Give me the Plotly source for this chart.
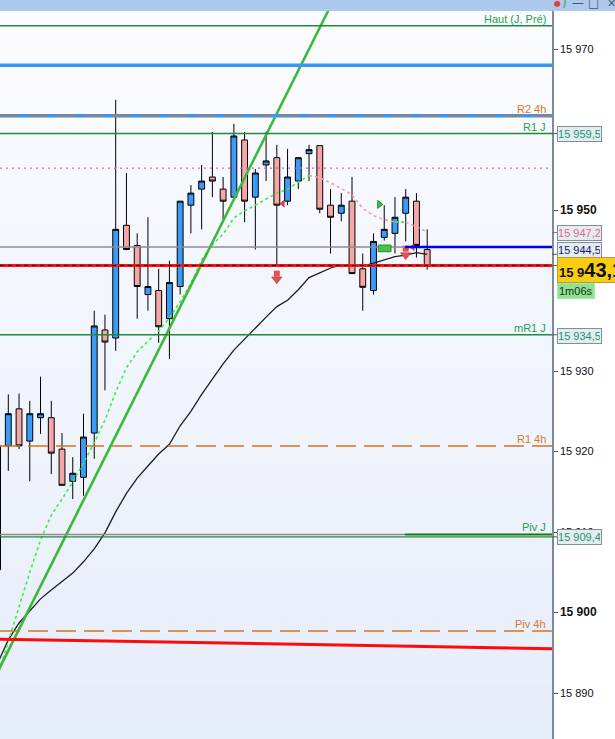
import plotly.graph_objects as go

# ---------------- data ----------------
bar_index = list(range(-1, 40))
open_px = [15905.3, 15920.7, 15925.3, 15921.3, 15924.2, 15924.2, 15920.3, 15916.3, 15916.8, 15922.3,
           15935.1, 15934.1, 15948.1, 15945.6, 15939.5, 15940.0, 15936.5, 15940.5, 15950.6, 15952.6,
           15954.1, 15952.6, 15951.6, 15958.7, 15951.6, 15955.6, 15956.5, 15951.1, 15953.6, 15957.0,
           15958.0, 15950.6, 15949.6, 15951.1, 15942.7, 15940.0, 15946.6, 15947.1, 15949.6, 15951.1,
           15945.1]
high_px = [15921.0, 15927.1, 15927.2, 15926.3, 15929.3, 15926.3, 15922.3, 15919.3, 15924.7, 15937.5,
           15937.0, 15963.7, 15954.6, 15947.1, 15949.1, 15942.7, 15943.7, 15951.1, 15953.1, 15955.6,
           15959.7, 15954.1, 15960.7, 15959.7, 15955.1, 15959.7, 15958.1, 15957.6, 15956.6, 15958.1,
           15958.0, 15952.6, 15952.1, 15954.1, 15944.6, 15947.1, 15950.6, 15951.6, 15952.6, 15952.1,
           15947.6]
low_px = [15903.5, 15917.6, 15920.3, 15916.3, 15922.2, 15917.2, 15915.8, 15914.1, 15914.5, 15919.1,
          15927.6, 15932.5, 15945.0, 15936.5, 15937.5, 15933.5, 15931.5, 15939.5, 15947.1, 15947.6,
          15951.6, 15948.6, 15951.6, 15948.5, 15945.1, 15953.6, 15943.2, 15950.6, 15952.6, 15953.6,
          15949.6, 15944.6, 15948.6, 15942.1, 15937.5, 15939.5, 15946.2, 15944.6, 15946.1, 15944.1,
          15942.6]
close_px = [15920.7, 15924.7, 15920.7, 15924.7, 15924.7, 15919.8, 15915.8, 15917.3, 15921.8, 15935.6,
            15933.6, 15947.6, 15945.1, 15940.5, 15940.5, 15935.5, 15941.0, 15951.1, 15952.1, 15953.6,
            15953.6, 15951.1, 15959.2, 15951.1, 15954.6, 15956.1, 15950.6, 15954.1, 15956.5, 15957.5,
            15950.1, 15949.1, 15950.6, 15942.1, 15940.4, 15946.1, 15947.6, 15949.1, 15951.6, 15945.6,
            15943.1]

ma_slow = [15893.7, 15896.6, 15898.7, 15900.2, 15901.7, 15902.8, 15903.8, 15904.9, 15906.3, 15907.9,
           15909.9, 15912.5, 15914.8, 15916.7, 15918.2, 15919.7, 15920.9, 15923.2, 15925.0, 15927.1,
           15929.0, 15930.9, 15932.6, 15934.0, 15935.3, 15936.7, 15938.0, 15938.8, 15940.1, 15941.6,
           15942.2, 15942.8, 15943.2, 15943.2, 15943.0, 15943.4, 15943.8, 15944.2, 15944.4, 15944.7,
           15944.5]
ma_fast = [15892.1, 15896.5, 15900.7, 15905.0, 15909.0, 15912.1, 15914.1, 15916.2, 15918.6, 15921.1,
           15923.9, 15927.4, 15930.4, 15932.4, 15933.7, 15935.0, 15936.6, 15938.6, 15940.9, 15943.8,
           15945.7, 15947.0, 15949.0, 15949.9, 15950.6, 15951.4, 15952.1, 15952.6, 15953.5, 15954.3,
           15954.0, 15953.4, 15952.7, 15951.9, 15950.2, 15949.3, 15948.8, 15948.5, 15948.5, 15947.9,
           15947.3]
ma_fast_up_ranges = [(-1, 28), (36, 37)]

trend_x = [-1, 31]
trend_y = [15892.6, 15978.0]
support_x = [-1, 51]
support_y = [15896.7, 15895.5]

haut_j_pre = 15972.9
blue_level_1 = 15968.0
r2_4h = 15961.7
r1_j = 15959.5
dotted_level = 15955.2
ref_level = 15945.4
last_price = 15943.1
mr1_j = 15934.5
r1_4h = 15920.7
piv_j_upper = 15909.7
piv_j = 15909.4
piv_4h = 15897.7
session_start_x = 36.94

level_labels = ["Haut (J, Pré)", "R2 4h", "R1 J", "mR1 J", "R1 4h", "Piv J", "Piv 4h"]
level_label_values = [haut_j_pre, r2_4h, r1_j, mr1_j, r1_4h, piv_j_upper, piv_4h]
level_label_kind = ["J", "4h", "J", "J", "4h", "J", "4h"]

tag_values = [15959.5, 15947.2, 15944.5, 15934.5, 15909.4]
countdown = "1m06s"

tick_values = [15890, 15900, 15910, 15920, 15930, 15950, 15970]
major_ticks = [15900, 15950]

sig_down_x = [25.0, 37.0]
sig_down_stem_y = [15942.1, 15945.2]
sig_down_head_y = [15941.4, 15944.4]
sig_left_x = [25.55, 37.65]
sig_left_y = [15950.8, 15945.4]
sig_right_x = [34.55]
sig_right_y = [15950.7]
sig_box = dict(x0=34.45, x1=35.63, y0=15944.82, y1=15945.65)

# ---------------- helpers ----------------
def fmt1(v):
    return f"{v:,.1f}".replace(",", " ").replace(".", ",")

def fmt0(v):
    return f"{v:,.0f}".replace(",", " ")

FONT = "Liberation Sans, Arial, sans-serif"
PLOT_W = 552.0
X_RANGE = [-0.773, 50.62]
Y_RANGE = [15884.29, 15976.09]

fig = go.Figure()

fig.add_trace(go.Candlestick(
    x=bar_index, open=open_px, high=high_px, low=low_px, close=close_px,
    increasing=dict(line=dict(color="#000000", width=1), fillcolor="#3a9cf6"),
    decreasing=dict(line=dict(color="#000000", width=1), fillcolor="#f5a6a6"),
    whiskerwidth=0, hoverinfo="skip"))

fig.add_trace(go.Scatter(x=bar_index, y=ma_slow, mode="lines",
                         line=dict(color="#1e1e1e", width=1.3), hoverinfo="skip"))

# fast MA split into rising (green) / falling (pink) runs
runs = []
for k in range(len(bar_index) - 1):
    a, b = bar_index[k], bar_index[k + 1]
    up = any(lo <= a and b <= hi for lo, hi in ma_fast_up_ranges)
    if runs and runs[-1][0] == up:
        runs[-1][1].append(k + 1)
    else:
        runs.append([up, [k, k + 1]])
for up, ks in runs:
    fig.add_trace(go.Scatter(
        x=[bar_index[k] for k in ks], y=[ma_fast[k] for k in ks], mode="lines",
        line=dict(color="#3cf03c" if up else "#f2a0a0", width=1.6, dash="3px,3px"),
        hoverinfo="skip"))

fig.add_trace(go.Scatter(x=trend_x, y=trend_y, mode="lines",
                         line=dict(color="#3db83d", width=2.6), hoverinfo="skip"))
fig.add_trace(go.Scatter(x=support_x, y=support_y, mode="lines",
                         line=dict(color="#ff0a0a", width=3), hoverinfo="skip"))

# signal markers
fig.add_trace(go.Scatter(x=sig_down_x, y=sig_down_stem_y, mode="markers",
                         marker=dict(symbol="square", size=6, color="#e65252", line=dict(width=0)),
                         hoverinfo="skip", cliponaxis=False))
fig.add_trace(go.Scatter(x=sig_down_x, y=sig_down_head_y, mode="markers",
                         marker=dict(symbol="triangle-down", size=9, color="#e65252",
                                     line=dict(width=0.6, color="#b03030")),
                         hoverinfo="skip"))
fig.add_trace(go.Scatter(x=sig_left_x, y=sig_left_y, mode="markers",
                         marker=dict(symbol="triangle-left", size=6, color="#e24848",
                                     line=dict(width=0.5, color="#a02020")),
                         hoverinfo="skip"))
fig.add_trace(go.Scatter(x=sig_right_x, y=sig_right_y, mode="markers",
                         marker=dict(symbol="triangle-right", size=7, color="#3cc03c",
                                     line=dict(width=0.8, color="#1f7f1f")),
                         hoverinfo="skip"))

shapes = []
# plot-area background gradient
n_bands = 40
top_c, bot_c = (251, 252, 255), (230, 237, 250)
for k in range(n_bands):
    t = k / (n_bands - 1)
    c = tuple(round(top_c[j] + (bot_c[j] - top_c[j]) * t) for j in range(3))
    shapes.append(dict(type="rect", xref="paper", yref="paper", x0=0, x1=1,
                       y0=1 - (k + 1) / n_bands - 0.002, y1=1 - k / n_bands,
                       fillcolor=f"rgb{c}", line=dict(width=0), layer="below"))

def hline(y, color, width, dash="solid", x0=0, x1=1, xref="paper"):
    shapes.append(dict(type="line", xref=xref, yref="y", x0=x0, x1=x1, y0=y, y1=y,
                       line=dict(color=color, width=width, dash=dash), layer="above"))

hline(haut_j_pre, "#1f8a3a", 1.5)
hline(blue_level_1, "#3996f2", 3.5)
hline(r2_4h, "#3996f2", 3.5)
hline(r2_4h, "#d2741e", 1.2, "20px,8px")
hline(r1_j, "#1f8a3a", 1.5)
hline(dotted_level, "#d05ce0", 1.4, "2px,4px")
hline(ref_level, "#8c8c8c", 1.6)
hline(ref_level, "#0000ff", 2.6, x0=session_start_x, x1=X_RANGE[1] + 1, xref="x")
hline(last_price, "#ff1010", 3)
hline(last_price, "#000000", 1.1, "4px,4px")
hline(mr1_j, "#1f8a3a", 1.5)
hline(r1_4h, "#d2741e", 1.5, "20px,8px")
hline(piv_j_upper, "#8c8c8c", 1.6, x0=X_RANGE[0] - 1, x1=session_start_x, xref="x")
hline(piv_j_upper, "#127a12", 2, x0=session_start_x, x1=X_RANGE[1] + 1, xref="x")
hline(piv_j, "#1f8a3a", 1.3)
hline(piv_4h, "#d2741e", 1.5, "20px,8px")

shapes.append(dict(type="rect", xref="x", yref="y", layer="above",
                   fillcolor="#46c246", line=dict(color="#2a8a2a", width=1), **sig_box))

# small tick marks next to the price tags
tick_colors = ["#555555", "#e0505e", "#555555", "#555555", "#555555"]
for v, c in zip(tag_values + [last_price], tick_colors + ["#555555"]):
    shapes.append(dict(type="line", xref="paper", yref="y", x0=1, x1=1 + 5 / PLOT_W, y0=v, y1=v,
                       line=dict(color=c, width=1), layer="above"))

# window title bar
shapes.append(dict(type="rect", xref="paper", yref="paper", x0=0, x1=615 / PLOT_W,
                   y0=1 - 11 / 739, y1=1.01, fillcolor="#adc9ee", line=dict(width=0), layer="above"))

annotations = []
kind_color = {"J": "#22a04c", "4h": "#d8782a"}
for txt, v, kind in zip(level_labels, level_label_values, level_label_kind):
    annotations.append(dict(xref="paper", yref="y", x=547 / PLOT_W, y=v, xanchor="right",
                            yanchor="bottom", text=txt, showarrow=False, borderpad=0,
                            font=dict(family=FONT, size=11, color=kind_color[kind])))

tag_colors = ["#1a9a60", "#e86a7a", "#202060", "#1a9a60", "#1a9a60"]
tag_shift = [0, 0, 4.6, -1.0, 0]
for v, c, s in zip(tag_values, tag_colors, tag_shift):
    annotations.append(dict(xref="paper", yref="y", x=557 / PLOT_W, y=v, xanchor="left",
                            yanchor="middle", yshift=s, text=fmt1(v), showarrow=False,
                            font=dict(family=FONT, size=11, color=c), bgcolor="#e4ebf3",
                            bordercolor="#7f8f9f", borderwidth=1, borderpad=1, width=41,
                            align="center"))

lp = fmt1(last_price)
annotations.append(dict(xref="paper", yref="y", x=557 / PLOT_W, y=last_price, xanchor="left",
                        yanchor="middle", yshift=-4.3,
                        text=f"<b>{lp[:4]}<span style='font-size:20px'>{lp[4:]}</span></b>",
                        showarrow=False, font=dict(family=FONT, size=13, color="#111111"),
                        bgcolor="#fbcd12", bordercolor="#b89a40", borderwidth=1, borderpad=1,
                        align="left"))
annotations.append(dict(xref="paper", yref="y", x=557 / PLOT_W, y=last_price, xanchor="left",
                        yanchor="middle", yshift=-25.3, text=countdown, showarrow=False,
                        font=dict(family=FONT, size=11, color="#1c2a1c"), bgcolor="#8fe28f",
                        bordercolor="#a8e8a8", borderwidth=1, borderpad=1))

# title bar icons
for px, txt, col, sz in [(557, "●", "#e04040", 8), (564, ")", "#30b030", 12), (578, "—", "#46566e", 12),
                         (593, "□", "#46566e", 12), (611, "✕", "#46566e", 11)]:
    annotations.append(dict(xref="paper", yref="paper", x=px / PLOT_W, y=1 - 3 / 739, xanchor="center",
                            yanchor="middle", text=txt, showarrow=False,
                            font=dict(family="DejaVu Sans", size=sz, color=col)))

tick_text = [f"<b><span style='font-size:12px'>{fmt0(v)}</span></b>" if v in major_ticks else fmt0(v)
             for v in tick_values]

fig.update_layout(
    width=615, height=739, margin=dict(l=0, r=63, t=0, b=0),
    paper_bgcolor="#ffffff", plot_bgcolor="#f3f6fd",
    showlegend=False, hovermode=False, boxgap=0.22,
    xaxis=dict(range=X_RANGE, visible=False, rangeslider=dict(visible=False), fixedrange=True),
    yaxis=dict(range=Y_RANGE, side="right", showgrid=False, zeroline=False, showline=True,
               linecolor="#7b8b9b", linewidth=1.5, ticks="outside", ticklen=4, tickcolor="#555555",
               tickvals=tick_values, ticktext=tick_text,
               tickfont=dict(family=FONT, size=11, color="#111111"), fixedrange=True),
    shapes=shapes, annotations=annotations,
)

fig.write_html("out.html", config={"displayModeBar": False},
               post_script="document.body.style.margin='0';document.body.style.overflow='hidden';")
